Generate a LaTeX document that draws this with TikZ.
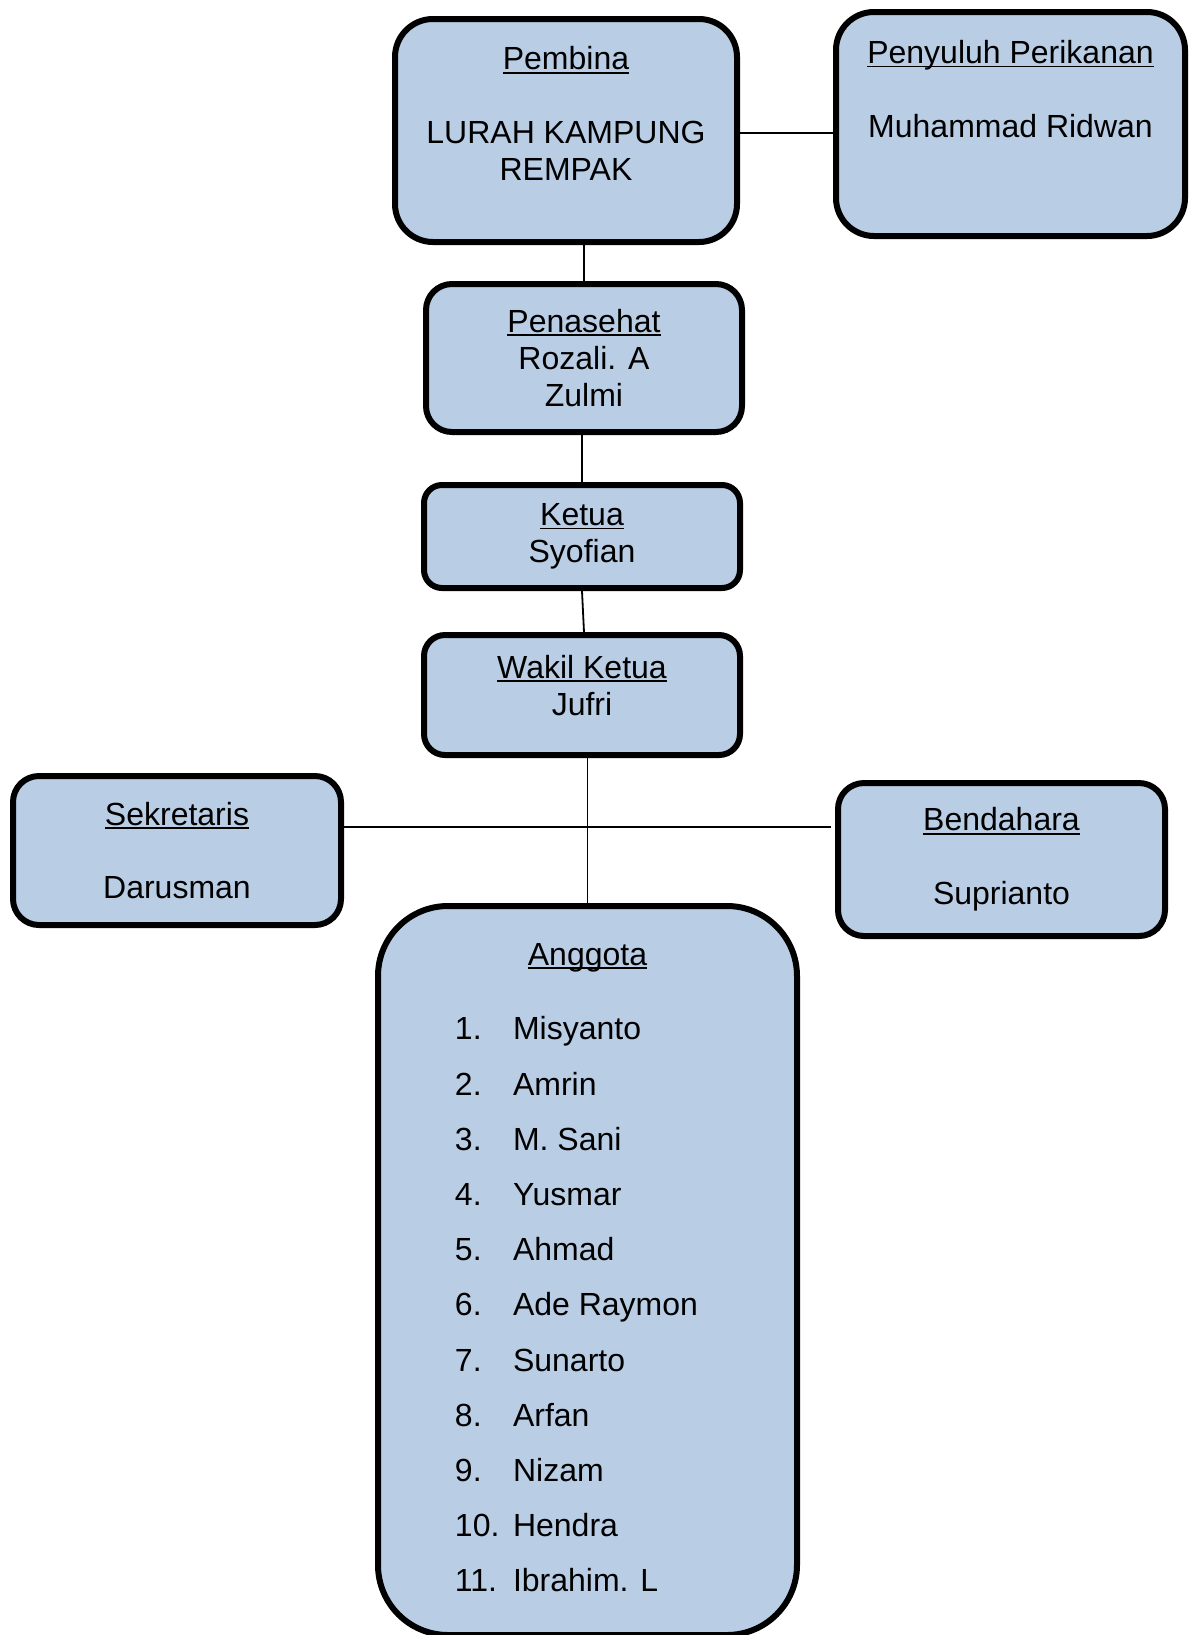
\documentclass[tikz,border=0pt]{standalone}
\usepackage{fontspec}
\setmainfont{Liberation Sans}
\usepackage{tikz}
\usetikzlibrary{positioning}

\definecolor{isian}{RGB}{185,205,228}
\newcommand{\jab}[1]{\setbox0=\hbox{#1}\rlap{\rule[-1.8pt]{\wd0}{0.9pt}}\box0}
\tikzset{
	kotak/.style={draw, line width=3pt, fill=isian, align=center, inner sep=0pt,
		rounded corners=#1, font=\fontsize{16}{18.4}\selectfont},
	garis/.style={line width=0.9pt}
}

\begin{document}
\begin{tikzpicture}[x=0.5pt,y=-0.5pt]
	\useasboundingbox (0,0) rectangle (1190,1635);
	\node[kotak=19pt, minimum width=171pt, minimum height=111.5pt] (pembina) at (566,130.5)
		{\jab{Pembina}\\[18.4pt]LURAH KAMPUNG\\REMPAK\\[-7pt]\strut};
	\node[kotak=19pt, minimum width=174.5pt, minimum height=112pt] (penyuluh) at (1010.5,124)
		{\jab{Penyuluh Perikanan}\\[18.4pt]Muhammad Ridwan\\[11pt]\strut};
	
	\node[kotak=13pt, minimum width=158pt, minimum height=74pt] (penasehat)
		[below = 18pt of pembina, xshift=9pt] {\jab{Penasehat}\\Rozali. A\\Zulmi};
	\node[kotak=9pt, minimum width=158pt, minimum height=51.5pt] (ketua)
		[below = 23.5pt of penasehat, xshift=-1pt] {\jab{Ketua}\\Syofian};
	\node[kotak=10.5pt, minimum width=158pt, minimum height=60pt, text depth=10pt] (wakil)
		[below = 20.5pt of ketua] {\jab{Wakil Ketua}\\Jufri};
	
	\node[kotak=13pt, minimum width=164pt, minimum height=74.5pt] (sekretaris) at (177,850.5)
		{\jab{Sekretaris}\\[18.4pt]Darusman};
	\node[kotak=13pt, minimum width=163.5pt, minimum height=76.5pt] (bendahara) at (1001.5,859.5)
		{\jab{Bendahara}\\[18.4pt]Suprianto};
	
	\node[kotak=35pt, minimum width=209.5pt, minimum height=364.5pt] (anggota) at (587.5,1270.5)
		{\jab{Anggota}\\[13.8pt]
		\renewcommand{\arraystretch}{1.5}%
		\begin{tabular}{@{}l@{\hspace{6.8pt}}l@{\hspace{11pt}}}
			1. & Misyanto\\
			2. & Amrin\\
			3. & M. Sani\\
			4. & Yusmar\\
			5. & Ahmad\\
			6. & Ade Raymon\\
			7. & Sunarto\\
			8. & Arfan\\
			9. & Nizam\\
			10. & Hendra\\
			11. & Ibrahim. L\\[-5.2pt]
		\end{tabular}};
	
	\coordinate (simpang) at (587.5,827);
	
	\draw[garis] ([yshift=-1.25pt]pembina.east) -- ([yshift=-1.25pt]pembina.east -| penyuluh.west);
	\draw[garis] (penasehat.north) -- (penasehat.north |- pembina.south);
	\draw[garis] (ketua.north) -- (ketua.north |- penasehat.south);
	\draw[garis] (ketua.south) -- ([xshift=1pt]wakil.north);
	\draw[garis] (anggota.north) -- (anggota.north |- wakil.south);
	\draw[garis] (sekretaris.east |- simpang) -- ([xshift=-2pt]bendahara.west |- simpang);
\end{tikzpicture}
\end{document}
